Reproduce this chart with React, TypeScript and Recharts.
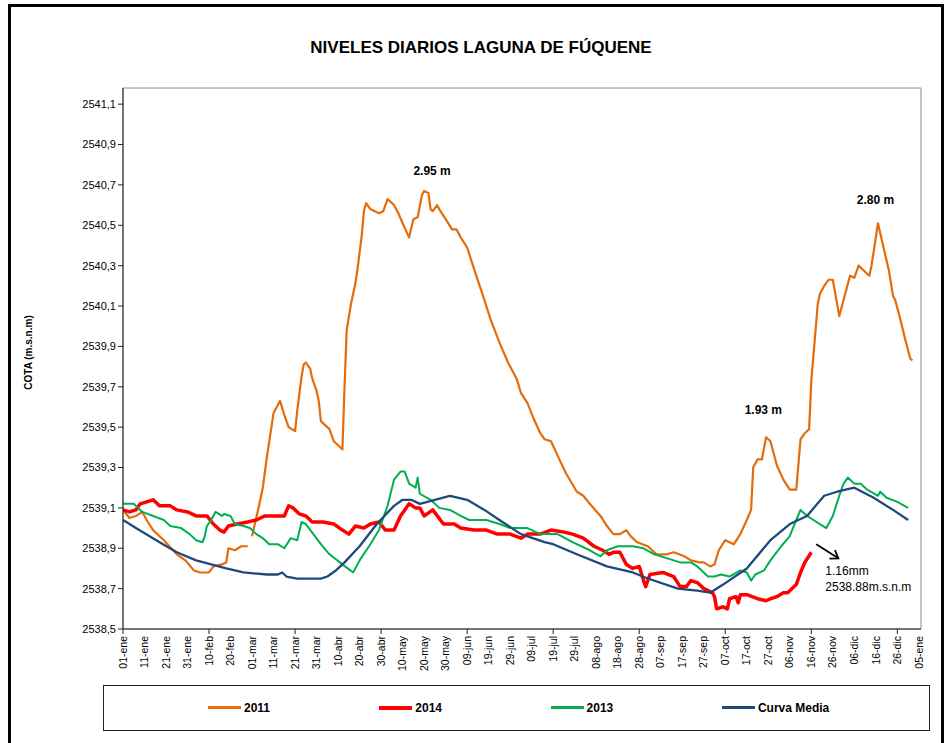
import { LineChart, Line, XAxis, YAxis, ReferenceArea, ReferenceDot, ReferenceLine, Legend } from 'recharts';

// days counted from 01-ene (0) ; cota in m.s.n.m
const dias2011 = [0, 3, 6, 9, 11, 14, 19, 25, 29, 33, 36, 40, 42, 46, 48, 49, 52, 55, 58, 59, 60, 63, 65, 67, 69, 70, 72, 73, 75, 77, 80, 81, 83, 84, 85, 87, 88, 90, 91, 92, 96, 98, 101, 102, 103, 104, 106, 108, 109, 111, 112, 113, 115, 117, 119, 121, 123, 126, 128, 130, 133, 135, 137, 139, 140, 142, 143, 144, 146, 147, 150, 153, 155, 157, 160, 163, 168, 171, 175, 179, 183, 185, 188, 191, 194, 196, 199, 202, 206, 211, 214, 217, 222, 225, 228, 231, 234, 236, 239, 244, 248, 253, 256, 261, 264, 268, 270, 273, 275, 277, 280, 284, 287, 290, 292, 293, 295, 297, 299, 301, 304, 307, 310, 313, 315, 317, 319, 320, 323, 324, 326, 328, 330, 333, 335, 338, 340, 342, 344, 347, 348, 351, 354, 356, 358, 359, 361, 364, 366, 367];
const cota2011 = [2539.09, 2539.05, 2539.06, 2539.08, 2539.04, 2538.99, 2538.94, 2538.87, 2538.84, 2538.79, 2538.78, 2538.78, 2538.81, 2538.82, 2538.83, 2538.9, 2538.89, 2538.91, 2538.91, null, 2538.96, 2539.1, 2539.2, 2539.36, 2539.5, 2539.57, 2539.61, 2539.63, 2539.56, 2539.5, 2539.48, 2539.58, 2539.75, 2539.81, 2539.82, 2539.79, 2539.74, 2539.68, 2539.63, 2539.53, 2539.49, 2539.43, 2539.4, 2539.39, 2539.7, 2539.98, 2540.11, 2540.21, 2540.28, 2540.45, 2540.57, 2540.61, 2540.58, 2540.57, 2540.56, 2540.57, 2540.63, 2540.6, 2540.56, 2540.51, 2540.44, 2540.53, 2540.54, 2540.65, 2540.67, 2540.66, 2540.58, 2540.57, 2540.6, 2540.58, 2540.53, 2540.48, 2540.48, 2540.44, 2540.39, 2540.29, 2540.13, 2540.03, 2539.92, 2539.82, 2539.74, 2539.67, 2539.62, 2539.54, 2539.47, 2539.44, 2539.43, 2539.36, 2539.27, 2539.18, 2539.16, 2539.12, 2539.06, 2539.01, 2538.97, 2538.97, 2538.99, 2538.96, 2538.93, 2538.91, 2538.87, 2538.87, 2538.88, 2538.86, 2538.84, 2538.83, 2538.83, 2538.81, 2538.82, 2538.89, 2538.94, 2538.92, 2538.97, 2539.04, 2539.09, 2539.3, 2539.34, 2539.34, 2539.45, 2539.43, 2539.31, 2539.24, 2539.19, 2539.19, 2539.44, 2539.47, 2539.49, 2539.73, 2540.11, 2540.16, 2540.2, 2540.23, 2540.23, 2540.05, 2540.13, 2540.25, 2540.24, 2540.3, 2540.28, 2540.25, 2540.3, 2540.51, 2540.37, 2540.28, 2540.15, 2540.13, 2540.05, 2539.92, 2539.84, 2539.83];

const dias2014 = [0, 3, 6, 8, 11, 14, 16, 17, 22, 25, 30, 34, 39, 42, 45, 47, 49, 53, 58, 62, 66, 70, 75, 77, 79, 82, 85, 88, 93, 98, 102, 105, 108, 112, 115, 119, 122, 126, 129, 131, 133, 136, 138, 140, 144, 149, 154, 157, 163, 169, 174, 180, 185, 188, 194, 199, 205, 209, 214, 219, 223, 226, 228, 231, 234, 237, 240, 242, 243, 245, 251, 256, 259, 262, 264, 267, 270, 274, 275, 276, 279, 281, 282, 285, 286, 287, 290, 295, 299, 301, 304, 307, 309, 313, 315, 317, 320];
const cota2014 = [2539.09, 2539.08, 2539.09, 2539.12, 2539.13, 2539.14, 2539.12, 2539.11, 2539.11, 2539.09, 2539.08, 2539.06, 2539.06, 2539.02, 2538.99, 2538.98, 2539.01, 2539.02, 2539.03, 2539.04, 2539.06, 2539.06, 2539.06, 2539.11, 2539.1, 2539.07, 2539.06, 2539.03, 2539.03, 2539.02, 2538.99, 2538.97, 2539.01, 2539.0, 2539.02, 2539.03, 2538.99, 2538.99, 2539.06, 2539.09, 2539.12, 2539.1, 2539.1, 2539.06, 2539.09, 2539.02, 2539.02, 2539.0, 2538.99, 2538.99, 2538.97, 2538.97, 2538.95, 2538.97, 2538.97, 2538.99, 2538.98, 2538.97, 2538.95, 2538.91, 2538.89, 2538.87, 2538.88, 2538.88, 2538.82, 2538.8, 2538.81, 2538.74, 2538.71, 2538.77, 2538.78, 2538.76, 2538.71, 2538.71, 2538.74, 2538.73, 2538.7, 2538.68, 2538.66, 2538.6, 2538.61, 2538.6, 2538.65, 2538.66, 2538.63, 2538.67, 2538.67, 2538.65, 2538.64, 2538.65, 2538.66, 2538.68, 2538.68, 2538.72, 2538.78, 2538.83, 2538.88];

const dias2013 = [0, 5, 6, 9, 14, 19, 22, 27, 31, 34, 37, 38, 39, 41, 43, 46, 47, 50, 52, 56, 59, 62, 65, 68, 72, 75, 78, 81, 83, 85, 92, 96, 102, 107, 110, 115, 119, 123, 126, 129, 131, 133, 136, 137, 138, 143, 147, 152, 157, 161, 169, 175, 180, 188, 194, 202, 209, 217, 222, 225, 230, 237, 242, 247, 253, 259, 264, 267, 272, 275, 278, 282, 287, 290, 292, 294, 298, 301, 306, 310, 313, 315, 318, 321, 324, 327, 330, 333, 335, 337, 340, 343, 346, 351, 352, 355, 360, 365];
const cota2013 = [2539.12, 2539.12, 2539.11, 2539.08, 2539.06, 2539.04, 2539.01, 2539.0, 2538.97, 2538.94, 2538.93, 2538.96, 2539.01, 2539.04, 2539.08, 2539.06, 2539.07, 2539.06, 2539.02, 2539.01, 2539.0, 2538.97, 2538.95, 2538.92, 2538.92, 2538.9, 2538.95, 2538.94, 2539.03, 2539.02, 2538.92, 2538.87, 2538.82, 2538.78, 2538.84, 2538.92, 2538.99, 2539.11, 2539.24, 2539.28, 2539.28, 2539.22, 2539.2, 2539.25, 2539.17, 2539.14, 2539.1, 2539.09, 2539.06, 2539.04, 2539.04, 2539.02, 2539.0, 2539.0, 2538.97, 2538.97, 2538.93, 2538.89, 2538.86, 2538.89, 2538.91, 2538.91, 2538.9, 2538.87, 2538.85, 2538.83, 2538.83, 2538.81, 2538.76, 2538.76, 2538.77, 2538.76, 2538.79, 2538.78, 2538.74, 2538.77, 2538.79, 2538.84, 2538.91, 2538.96, 2539.04, 2539.09, 2539.06, 2539.04, 2539.02, 2539.0, 2539.06, 2539.16, 2539.22, 2539.25, 2539.22, 2539.22, 2539.19, 2539.16, 2539.18, 2539.15, 2539.13, 2539.1];

const diasMedia = [0, 6, 17, 25, 34, 48, 56, 67, 72, 74, 76, 81, 92, 95, 99, 103, 110, 118, 126, 130, 134, 138, 145, 152, 160, 168, 175, 185, 196, 200, 211, 225, 237, 244, 258, 267, 273, 279, 290, 301, 310, 318, 326, 332, 340, 349, 358, 365];
const cotaMedia = [2539.04, 2539.0, 2538.93, 2538.88, 2538.84, 2538.8, 2538.78, 2538.77, 2538.77, 2538.78, 2538.76, 2538.75, 2538.75, 2538.76, 2538.79, 2538.83, 2538.91, 2539.02, 2539.11, 2539.14, 2539.14, 2539.12, 2539.14, 2539.16, 2539.14, 2539.09, 2539.04, 2538.97, 2538.93, 2538.92, 2538.87, 2538.81, 2538.78, 2538.75, 2538.7, 2538.69, 2538.68, 2538.72, 2538.8, 2538.94, 2539.02, 2539.06, 2539.16, 2539.18, 2539.2, 2539.15, 2539.09, 2539.04];

const tickDays = [0, 10, 20, 30, 40, 50, 60, 70, 80, 90, 100, 110, 120, 130, 140, 150, 160, 170, 180, 190, 200, 210, 220, 230, 240, 250, 260, 270, 280, 290, 300, 310, 320, 330, 340, 350, 360, 370];
const tickLabels = ['01-ene', '11-ene', '21-ene', '31-ene', '10-feb', '20-feb', '01-mar', '11-mar', '21-mar', '31-mar', '10-abr', '20-abr', '30-abr', '10-may', '20-may', '30-may', '09-jun', '19-jun', '29-jun', '09-jul', '19-jul', '29-jul', '08-ago', '18-ago', '28-ago', '07-sep', '17-sep', '27-sep', '07-oct', '17-oct', '27-oct', '06-nov', '16-nov', '26-nov', '06-dic', '16-dic', '26-dic', '05-ene'];
const cotaTicks = [2538.5, 2538.7, 2538.9, 2539.1, 2539.3, 2539.5, 2539.7, 2539.9, 2540.1, 2540.3, 2540.5, 2540.7, 2540.9, 2541.1];

const notas = [
  { dia: 143.7, cota: 2540.77, texto: '2.95 m', pos: 'center', bold: true },
  { dia: 297.7, cota: 2539.585, texto: '1.93 m', pos: 'center', bold: true },
  { dia: 349.8, cota: 2540.625, texto: '2.80 m', pos: 'center', bold: true },
  { dia: 326.5, cota: 2538.79, texto: '1.16mm', pos: 'right', bold: false },
  { dia: 326.5, cota: 2538.71, texto: '2538.88m.s.n.m', pos: 'right', bold: false },
];
const flecha = [{ dia: 322.3, cota: 2538.92 }, { dia: 332.6, cota: 2538.85 }];

const toRows = (dias: number[], cotas: (number | null)[]) => dias.map((d, i) => ({ dia: d, cota: cotas[i] }));

const series = [
  { name: '2011', color: '#E46C0A', width: 2.2, data: toRows(dias2011, cota2011) },
  { name: '2014', color: '#FF0000', width: 3.5, data: toRows(dias2014, cota2014) },
  { name: '2013', color: '#00B050', width: 2, data: toRows(dias2013, cota2013) },
  { name: 'Curva Media', color: '#1F497D', width: 2.3, data: toRows(diasMedia, cotaMedia) },
];

const FONT = '"Liberation Sans", Arial, sans-serif';

function DayTick(props: any) {
  const { x, y, payload } = props;
  const i = tickDays.indexOf(payload.value);
  const ty = y + 7;
  return (
    <g>
      {i % 4 === 0 && <line x1={x} y1={y} x2={x} y2={y + 5} stroke="#222" />}
      <text x={x} y={ty} transform={`rotate(-90 ${x} ${ty})`} textAnchor="end" dy="0.35em" fontSize={10.5} fontFamily={FONT} fill="#000">
        {tickLabels[i]}
      </text>
    </g>
  );
}

function Arrow(props: any) {
  const { x1, y1, x2, y2 } = props;
  const a = Math.atan2(y2 - y1, x2 - x1);
  const h = 9;
  const w1 = a + Math.PI - 0.6;
  const w2 = a + Math.PI + 0.6;
  return (
    <g stroke="#000" strokeWidth={1.8} fill="none">
      <line x1={x1} y1={y1} x2={x2} y2={y2} />
      <polyline points={`${x2 + h * Math.cos(w1)},${y2 + h * Math.sin(w1)} ${x2},${y2} ${x2 + h * Math.cos(w2)},${y2 + h * Math.sin(w2)}`} />
    </g>
  );
}

function LegendBox() {
  return (
    <div style={{ position: 'relative', width: 827, height: 46, border: '1.5px solid #222', boxSizing: 'border-box', background: '#fff' }}>
      {series.map((s, i) => (
        <div key={s.name} style={{ position: 'absolute', left: 104 + i * 171.3, top: 0, height: 43, display: 'flex', alignItems: 'center' }}>
          <span style={{ display: 'inline-block', width: 33, height: s.name === '2014' ? 4 : 3, background: s.color, marginRight: 3 }} />
          <span style={{ fontFamily: FONT, fontWeight: 'bold', fontSize: 12, color: '#000' }}>{s.name}</span>
        </div>
      ))}
    </div>
  );
}

export default function App() {
  return (
    <div style={{ position: 'absolute', left: 0, top: 0, width: 948, height: 743, background: '#fff', overflow: 'hidden' }}>
      <div style={{ position: 'absolute', left: 8, top: 4, width: 936, height: 745, border: '3px solid #000', borderBottom: 'none', boxSizing: 'border-box' }} />
      <div style={{ position: 'absolute', left: 231, top: 38, width: 500, textAlign: 'center', fontFamily: FONT, fontWeight: 'bold', fontSize: 17, lineHeight: '20px', color: '#000' }}>
        NIVELES DIARIOS LAGUNA DE FÚQUENE
      </div>
      <div style={{ position: 'absolute', left: 0, top: 0 }}>
        <LineChart width={948} height={743} margin={{ top: 88, right: 27, bottom: 69, left: 63 }}>
          <ReferenceArea x1={0} x2={371} y1={2538.5} y2={2541.18} fill="none" stroke="#8c8c8c" strokeWidth={1} />
          <XAxis dataKey="dia" type="number" domain={[0, 371]} ticks={tickDays} interval={0} height={45}
            tick={<DayTick />} tickLine={false} tickSize={0} tickMargin={0} axisLine={{ stroke: '#222' }} allowDataOverflow />
          <YAxis type="number" domain={[2538.5, 2541.18]} ticks={cotaTicks} interval={0} width={60} allowDataOverflow
            tickFormatter={(v: number) => v.toFixed(1).replace('.', ',')}
            tick={{ fill: '#000', fontSize: 11, fontFamily: FONT }} tickSize={5} tickLine={{ stroke: '#222' }} axisLine={{ stroke: '#222' }}
            label={{
              content: ({ viewBox }: any) => (
                <text x={viewBox.x - 35} y={viewBox.y + viewBox.height / 2 - 6} transform={`rotate(-90 ${viewBox.x - 35} ${viewBox.y + viewBox.height / 2 - 6})`}
                  textAnchor="middle" dy="0.35em" fontSize={10} fontWeight="bold" fontFamily={FONT} fill="#000">COTA (m.s.n.m)</text>
              ),
            }} />
          {series.map((s) => (
            <Line key={s.name} data={s.data} dataKey="cota" name={s.name} type="linear" stroke={s.color} strokeWidth={s.width}
              dot={false} activeDot={false} isAnimationActive={false} connectNulls={false} strokeLinejoin="round" />
          ))}
          {notas.map((n) => (
            <ReferenceDot key={n.texto} x={n.dia} y={n.cota} r={0} fill="none" stroke="none"
              label={{ value: n.texto, position: n.pos as any, offset: 0, fontSize: 12, fontWeight: n.bold ? 'bold' : 'normal', fill: '#000', fontFamily: FONT }} />
          ))}
          <ReferenceLine segment={[{ x: flecha[0].dia, y: flecha[0].cota }, { x: flecha[1].dia, y: flecha[1].cota }]} shape={<Arrow />} />
          <Legend layout="horizontal" verticalAlign="middle" align="center" content={() => <LegendBox />}
            wrapperStyle={{ left: 103, top: 685, width: 827, height: 46 }} />
        </LineChart>
      </div>
    </div>
  );
}
